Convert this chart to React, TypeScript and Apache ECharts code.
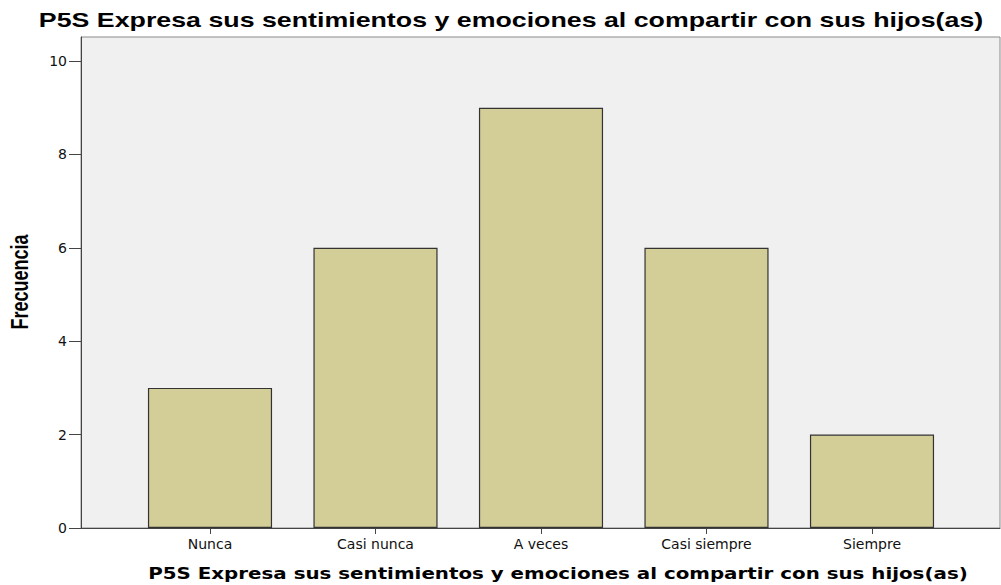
import React, { useEffect, useRef } from "react";
import * as echarts from "echarts";

const titleText = "P5S Expresa sus sentimientos y emociones al compartir con sus hijos(as)";
const xAxisTitle = "P5S Expresa sus sentimientos y emociones al compartir con sus hijos(as)";
const yAxisTitle = "Frecuencia";
const categories = ["Nunca", "Casi nunca", "A veces", "Casi siempre", "Siempre"];
const frequencies = [3, 6, 9, 6, 2];
const yMin = 0;
const yMax = 10;
const yInterval = 2;

export default function App() {
  const ref = useRef<HTMLDivElement>(null);
  useEffect(() => {
    if (!ref.current) return;
    const chart = echarts.init(ref.current, undefined, { renderer: "svg" });
    const frameLeft = 81;
    const frameTop = 37;
    const frameW = 919;
    const frameH = 491;
    const barLeft = 127.25;
    const barW = 827.5;
    const barTop = 61;
    const barH = 467;
    chart.setOption({
      animation: false,
      backgroundColor: "#ffffff",
      grid: [
        {
          left: frameLeft, top: frameTop, width: frameW, height: frameH,
          show: true, backgroundColor: "#F0F0F0", borderColor: "#8a8a8a", borderWidth: 1,
        },
        { left: barLeft, top: barTop, width: barW, height: barH },
      ],
      xAxis: [
        {
          gridIndex: 0, type: "value", min: 0, max: 1,
          axisLine: { show: true, lineStyle: { color: "#444", width: 1 } },
          axisTick: { show: false }, axisLabel: { show: false }, splitLine: { show: false },
        },
        {
          gridIndex: 1, type: "category", data: categories,
          axisLine: { show: false },
          axisTick: { show: true, alignWithLabel: true, length: 6, lineStyle: { color: "#444" } },
          axisLabel: { color: "#111", fontFamily: "DejaVu Sans", fontSize: 14, margin: 9 },
          splitLine: { show: false },
        },
      ],
      yAxis: [
        {
          gridIndex: 0, type: "value", min: 0, max: 10.5,
          axisLine: { show: true, lineStyle: { color: "#444", width: 1 } },
          axisTick: { show: false }, axisLabel: { show: false }, splitLine: { show: false },
        },
        {
          gridIndex: 1, type: "value", min: yMin, max: yMax, interval: yInterval,
          offset: barLeft - frameLeft,
          axisLine: { show: false },
          axisTick: { show: true, length: 12, lineStyle: { color: "#444" } },
          axisLabel: { color: "#111", fontFamily: "DejaVu Sans", fontSize: 14, margin: 14 },
          splitLine: { show: false },
        },
      ],
      series: [
        {
          type: "bar", xAxisIndex: 1, yAxisIndex: 1, data: frequencies, barWidth: "75%",
          itemStyle: { color: "#D3CE97", borderColor: "#333", borderWidth: 1.2 },
        },
      ],
      graphic: [
        {
          type: "text", x: 511, y: 20, scaleX: 1.275,
          style: {
            text: titleText, x: 0, y: 0, align: "center", verticalAlign: "middle",
            font: "bold 21px 'Liberation Sans', Arial, sans-serif", fill: "#000",
          },
        },
        {
          type: "text", x: 558, y: 573, scaleX: 1.24,
          style: {
            text: xAxisTitle, x: 0, y: 0, align: "center", verticalAlign: "middle",
            font: "bold 16px 'DejaVu Sans', Verdana, sans-serif", fill: "#000",
          },
        },
        {
          type: "text", x: 20, y: 282, rotation: Math.PI / 2, scaleY: 1.3,
          style: {
            text: yAxisTitle, x: 0, y: 0, align: "center", verticalAlign: "middle",
            font: "bold 18px 'Liberation Sans', Arial, sans-serif", fill: "#000",
          },
        },
      ],
    });
    return () => chart.dispose();
  }, []);
  return (
    <div
      ref={ref}
      style={{ position: "fixed", left: 0, top: 0, width: 1001, height: 585, background: "#fff" }}
    />
  );
}
